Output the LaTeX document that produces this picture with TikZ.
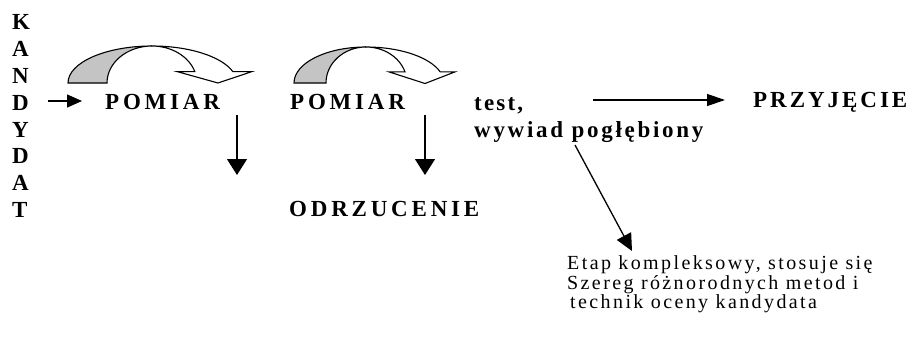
\documentclass[tikz,border=0pt]{standalone}
\usepackage{fontspec}
\setmainfont{Liberation Serif}
\usetikzlibrary{arrows.meta}
\definecolor{shade}{RGB}{196,196,196}
\begin{document}
\begin{tikzpicture}[x=1pt,y=-1pt,
  lbl/.style={inner sep=0pt, anchor=base west},
  bigtxt/.style={font=\fontsize{23}{26.9}\selectfont\bfseries},
  smalltxt/.style={font=\fontsize{20}{19.8}\selectfont\addfontfeatures{LetterSpace=12}},
  conn/.style={line width=1.3pt},
  bendline/.style={line width=1.1pt, line join=miter},
]
\useasboundingbox (0,0) rectangle (911,343);

% texts
\node[bigtxt, inner sep=0pt, anchor=north west, align=left] (kand) at (12,13.2)
  {\rule{0pt}{16pt}K\\A\\N\\D\\Y\\D\\A\\T};
\node[bigtxt, lbl] (pom1) at (105,109) {\addfontfeatures{LetterSpace=16.5}POMIAR};
\node[bigtxt, lbl] (pom2) at (290,109) {\addfontfeatures{LetterSpace=16.5}POMIAR};
\node[bigtxt, inner sep=0pt, anchor=north west, align=left] (test) at (474,94)
  {\rule{0pt}{16pt}{\addfontfeatures{LetterSpace=9.5}test,}\\{\addfontfeatures{LetterSpace=11.8}wywiad pogłębiony}};
\node[bigtxt, lbl] (prz) at (753,107) {\addfontfeatures{LetterSpace=12.9}PRZYJĘCIE};
\node[bigtxt, lbl] (odr) at (289,216) {\addfontfeatures{LetterSpace=16.5}ODRZUCENIE};
\node[smalltxt, inner sep=0pt, anchor=north west, align=left] (desc) at (567,253)
  {\rule{0pt}{16pt}Etap kompleksowy, stosuje się\\Szereg różnorodnych metod i\\\hspace*{3pt}technik oceny kandydata};

% connector end points
\coordinate (a1s) at (48,101);
\coordinate (a1e) at (82,101);
\coordinate (d1s) at (237,115);
\coordinate (d1e) at (237,175);
\coordinate (d2s) at (425,115);
\coordinate (d2e) at (425,175);
\coordinate (rs) at (593,100);
\coordinate (re) at (725,100);
\coordinate (gs) at (575,145);
\coordinate (ge) at (632,251);

\draw[conn, -{Triangle[length=15pt,width=13pt]}] (a1s) -- (a1e);
\draw[conn, -{Triangle[length=16pt,width=20pt]}] (d1s) -- (d1e);
\draw[conn, -{Triangle[length=16pt,width=20pt]}] (d2s) -- (d2e);
\draw[conn, -{Triangle[length=18pt,width=12pt]}] (rs) -- (re);
\draw[conn, -{Triangle[length=17pt,width=16pt]}] (gs) -- (ge);

% curved arrow 1
\filldraw[bendline, fill=shade] (68,83)
  arc[start angle=180, end angle=270, x radius=84, y radius=37]
  arc[start angle=270, end angle=180, x radius=45, y radius=37] -- cycle;
\filldraw[bendline, fill=white] (152,46)
  arc[start angle=270, end angle=342, x radius=85, y radius=37]
  -- (252,71.57) -- (218,83) -- (177,71.57) -- (194.8,71.57)
  arc[start angle=342, end angle=270, x radius=45, y radius=37] -- cycle;

% curved arrow 2
\filldraw[bendline, fill=shade] (294,83)
  arc[start angle=180, end angle=270, x radius=72, y radius=36]
  arc[start angle=270, end angle=180, x radius=40, y radius=36] -- cycle;
\filldraw[bendline, fill=white] (366,47)
  arc[start angle=270, end angle=342, x radius=78, y radius=36]
  -- (455,71.88) -- (425,83.5) -- (389,71.88) -- (405.0,71.88)
  arc[start angle=342, end angle=270, x radius=41, y radius=36] -- cycle;
\end{tikzpicture}
\end{document}
